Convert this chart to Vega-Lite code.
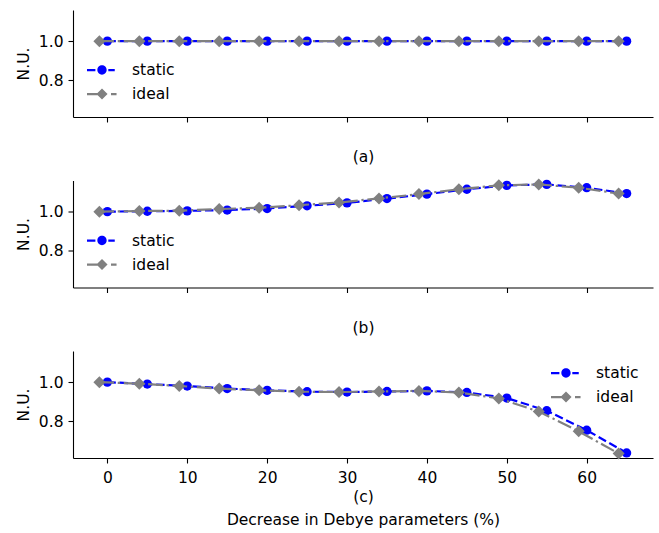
{
  "$schema": "https://vega.github.io/schema/vega-lite/v6.json",
  "padding": {"left": 16, "top": 10, "right": 5, "bottom": 3},
  "bounds": "flush",
  "spacing": 63.5,
  "config": {
    "font": "DejaVu Sans",
    "view": {"stroke": null},
    "axis": {
      "domainColor": "#000000", "domainWidth": 1.1, "tickColor": "#000000", "tickWidth": 1.1, "tickSize": 5,
      "labelColor": "#000000", "labelFontSize": 15.5, "titleFontSize": 15.5, "titleFontWeight": "normal", "titleColor": "#000000", "grid": false
    },
    "legend": {
      "title": null, "labelFontSize": 15.5, "labelColor": "#000000", "labelOffset": 15, "symbolSize": 900, "clipHeight": 16,
      "symbolOpacity": 1, "symbolStrokeWidth": 0, "rowPadding": 7, "padding": 0, "offset": 14
    }
  },
  "datasets": {
    "d": [
      {"panel":"a","series":"static","x":0,"y":1.0},{"panel":"a","series":"static","x":5,"y":1.0},{"panel":"a","series":"static","x":10,"y":1.0},{"panel":"a","series":"static","x":15,"y":1.0},{"panel":"a","series":"static","x":20,"y":1.0},{"panel":"a","series":"static","x":25,"y":1.0},{"panel":"a","series":"static","x":30,"y":1.0},{"panel":"a","series":"static","x":35,"y":1.0},{"panel":"a","series":"static","x":40,"y":1.0},{"panel":"a","series":"static","x":45,"y":1.0},{"panel":"a","series":"static","x":50,"y":1.0},{"panel":"a","series":"static","x":55,"y":1.0},{"panel":"a","series":"static","x":60,"y":1.0},{"panel":"a","series":"static","x":65,"y":1.0},
      {"panel":"a","series":"ideal","x":-1,"y":1.0},{"panel":"a","series":"ideal","x":4,"y":1.0},{"panel":"a","series":"ideal","x":9,"y":1.0},{"panel":"a","series":"ideal","x":14,"y":1.0},{"panel":"a","series":"ideal","x":19,"y":1.0},{"panel":"a","series":"ideal","x":24,"y":1.0},{"panel":"a","series":"ideal","x":29,"y":1.0},{"panel":"a","series":"ideal","x":34,"y":1.0},{"panel":"a","series":"ideal","x":39,"y":1.0},{"panel":"a","series":"ideal","x":44,"y":1.0},{"panel":"a","series":"ideal","x":49,"y":1.0},{"panel":"a","series":"ideal","x":54,"y":1.0},{"panel":"a","series":"ideal","x":59,"y":1.0},{"panel":"a","series":"ideal","x":64,"y":1.0},
      {"panel":"b","series":"static","x":0,"y":1.0},{"panel":"b","series":"static","x":5,"y":1.002},{"panel":"b","series":"static","x":10,"y":1.004},{"panel":"b","series":"static","x":15,"y":1.008},{"panel":"b","series":"static","x":20,"y":1.016},{"panel":"b","series":"static","x":25,"y":1.03},{"panel":"b","series":"static","x":30,"y":1.045},{"panel":"b","series":"static","x":35,"y":1.067},{"panel":"b","series":"static","x":40,"y":1.09},{"panel":"b","series":"static","x":45,"y":1.115},{"panel":"b","series":"static","x":50,"y":1.135},{"panel":"b","series":"static","x":55,"y":1.14},{"panel":"b","series":"static","x":60,"y":1.123},{"panel":"b","series":"static","x":65,"y":1.093},
      {"panel":"b","series":"ideal","x":-1,"y":1.0},{"panel":"b","series":"ideal","x":4,"y":1.003},{"panel":"b","series":"ideal","x":9,"y":1.005},{"panel":"b","series":"ideal","x":14,"y":1.013},{"panel":"b","series":"ideal","x":19,"y":1.02},{"panel":"b","series":"ideal","x":24,"y":1.033},{"panel":"b","series":"ideal","x":29,"y":1.047},{"panel":"b","series":"ideal","x":34,"y":1.068},{"panel":"b","series":"ideal","x":39,"y":1.09},{"panel":"b","series":"ideal","x":44,"y":1.115},{"panel":"b","series":"ideal","x":49,"y":1.135},{"panel":"b","series":"ideal","x":54,"y":1.14},{"panel":"b","series":"ideal","x":59,"y":1.123},{"panel":"b","series":"ideal","x":64,"y":1.093},
      {"panel":"c","series":"static","x":0,"y":1.0},{"panel":"c","series":"static","x":5,"y":0.99},{"panel":"c","series":"static","x":10,"y":0.98},{"panel":"c","series":"static","x":15,"y":0.967},{"panel":"c","series":"static","x":20,"y":0.958},{"panel":"c","series":"static","x":25,"y":0.951},{"panel":"c","series":"static","x":30,"y":0.949},{"panel":"c","series":"static","x":35,"y":0.952},{"panel":"c","series":"static","x":40,"y":0.955},{"panel":"c","series":"static","x":45,"y":0.947},{"panel":"c","series":"static","x":50,"y":0.918},{"panel":"c","series":"static","x":55,"y":0.853},{"panel":"c","series":"static","x":60,"y":0.753},{"panel":"c","series":"static","x":65,"y":0.636},
      {"panel":"c","series":"ideal","x":-1,"y":1.0},{"panel":"c","series":"ideal","x":4,"y":0.992},{"panel":"c","series":"ideal","x":9,"y":0.98},{"panel":"c","series":"ideal","x":14,"y":0.967},{"panel":"c","series":"ideal","x":19,"y":0.958},{"panel":"c","series":"ideal","x":24,"y":0.951},{"panel":"c","series":"ideal","x":29,"y":0.949},{"panel":"c","series":"ideal","x":34,"y":0.952},{"panel":"c","series":"ideal","x":39,"y":0.955},{"panel":"c","series":"ideal","x":44,"y":0.947},{"panel":"c","series":"ideal","x":49,"y":0.916},{"panel":"c","series":"ideal","x":54,"y":0.849},{"panel":"c","series":"ideal","x":59,"y":0.747},{"panel":"c","series":"ideal","x":64,"y":0.633}
    ]
  },
  "resolve": {"legend": {"color": "independent", "shape": "independent"}, "scale": {"color": "independent", "shape": "independent"}},
  "vconcat": [
    {
      "width": 580, "height": 107,
      "data": {"name": "d"},
      "transform": [{"filter": "datum.panel == 'a'"}],
      "encoding": {
        "x": {"field": "x", "type": "quantitative", "scale": {"domain": [-4.3, 68.3], "nice": false, "zero": false},
              "axis": {"values": [0,10,20,30,40,50,60], "labels": false, "title": "(a)", "titlePadding": 27}},
        "y": {"field": "y", "type": "quantitative", "scale": {"domain": [0.61, 1.16], "nice": false, "zero": false},
              "axis": {"values": [0.8, 1.0], "format": ".1f", "labelPadding": 5, "title": "N.U.", "titlePadding": 7}}
      },
      "layer": [
        {"transform": [{"filter": "datum.series == 'static'"}], "mark": {"type": "line", "color": "#0000ff", "strokeWidth": 2.2, "strokeDash": [8.5, 3.7]}, "encoding": {}},
        {"transform": [{"filter": "datum.series == 'static'"}], "mark": {"type": "point", "shape": "circle", "filled": true, "color": "#0000ff", "size": 86, "opacity": 1}},
        {"transform": [{"filter": "datum.series == 'ideal'"}], "mark": {"type": "line", "color": "#808080", "strokeWidth": 2.2, "strokeDash": [14.7, 3.7, 2.3, 3.7]}, "encoding": {}},
        {"transform": [{"filter": "datum.series == 'ideal'"}], "mark": {"type": "point", "shape": "diamond", "filled": true, "color": "#808080", "size": 144, "opacity": 1}},
        {"mark": {"type": "point", "filled": true, "opacity": 0},
         "encoding": {
           "color": {"field": "series", "type": "nominal", "scale": {"domain": ["static", "ideal"], "range": ["#0000ff", "#808080"]}, "legend": {"orient": "bottom-left"}},
           "shape": {"field": "series", "type": "nominal", "scale": {"domain": ["static", "ideal"], "range": ["M-1,-0.075H-0.44V0.075H-1Z M0.42,-0.075H0.85V0.075H0.42Z M-0.31,0A0.31,0.31,0,1,1,0.31,0A0.31,0.31,0,1,1,-0.31,0Z", "M-1,-0.075H-0.2V0.075H-1Z M0.6,-0.075H0.97V0.075H0.6Z M-0.37,0L0,-0.37L0.37,0L0,0.37Z"]}, "legend": {"orient": "bottom-left"}}
         }}
      ]
    },
    {
      "width": 580, "height": 107,
      "data": {"name": "d"},
      "transform": [{"filter": "datum.panel == 'b'"}],
      "encoding": {
        "x": {"field": "x", "type": "quantitative", "scale": {"domain": [-4.3, 68.3], "nice": false, "zero": false},
              "axis": {"values": [0,10,20,30,40,50,60], "labels": false, "title": "(b)", "titlePadding": 27}},
        "y": {"field": "y", "type": "quantitative", "scale": {"domain": [0.61, 1.16], "nice": false, "zero": false},
              "axis": {"values": [0.8, 1.0], "format": ".1f", "labelPadding": 5, "title": "N.U.", "titlePadding": 7}}
      },
      "layer": [
        {"transform": [{"filter": "datum.series == 'static'"}], "mark": {"type": "line", "color": "#0000ff", "strokeWidth": 2.2, "strokeDash": [8.5, 3.7]}, "encoding": {}},
        {"transform": [{"filter": "datum.series == 'static'"}], "mark": {"type": "point", "shape": "circle", "filled": true, "color": "#0000ff", "size": 86, "opacity": 1}},
        {"transform": [{"filter": "datum.series == 'ideal'"}], "mark": {"type": "line", "color": "#808080", "strokeWidth": 2.2, "strokeDash": [14.7, 3.7, 2.3, 3.7]}, "encoding": {}},
        {"transform": [{"filter": "datum.series == 'ideal'"}], "mark": {"type": "point", "shape": "diamond", "filled": true, "color": "#808080", "size": 144, "opacity": 1}},
        {"mark": {"type": "point", "filled": true, "opacity": 0},
         "encoding": {
           "color": {"field": "series", "type": "nominal", "scale": {"domain": ["static", "ideal"], "range": ["#0000ff", "#808080"]}, "legend": {"orient": "bottom-left"}},
           "shape": {"field": "series", "type": "nominal", "scale": {"domain": ["static", "ideal"], "range": ["M-1,-0.075H-0.44V0.075H-1Z M0.42,-0.075H0.85V0.075H0.42Z M-0.31,0A0.31,0.31,0,1,1,0.31,0A0.31,0.31,0,1,1,-0.31,0Z", "M-1,-0.075H-0.2V0.075H-1Z M0.6,-0.075H0.97V0.075H0.6Z M-0.37,0L0,-0.37L0.37,0L0,0.37Z"]}, "legend": {"orient": "bottom-left"}}
         }}
      ]
    },
    {
      "width": 580, "height": 107,
      "data": {"name": "d"},
      "transform": [{"filter": "datum.panel == 'c'"}],
      "encoding": {
        "x": {"field": "x", "type": "quantitative", "scale": {"domain": [-4.3, 68.3], "nice": false, "zero": false},
              "axis": {"values": [0,10,20,30,40,50,60], "labelPadding": 7, "title": ["(c)", "Decrease in Debye parameters (%)"], "titleLineHeight": 23, "titlePadding": 4}},
        "y": {"field": "y", "type": "quantitative", "scale": {"domain": [0.61, 1.16], "nice": false, "zero": false},
              "axis": {"values": [0.8, 1.0], "format": ".1f", "labelPadding": 5, "title": "N.U.", "titlePadding": 7}}
      },
      "layer": [
        {"transform": [{"filter": "datum.series == 'static'"}], "mark": {"type": "line", "color": "#0000ff", "strokeWidth": 2.2, "strokeDash": [8.5, 3.7]}, "encoding": {}},
        {"transform": [{"filter": "datum.series == 'static'"}], "mark": {"type": "point", "shape": "circle", "filled": true, "color": "#0000ff", "size": 86, "opacity": 1}},
        {"transform": [{"filter": "datum.series == 'ideal'"}], "mark": {"type": "line", "color": "#808080", "strokeWidth": 2.2, "strokeDash": [14.7, 3.7, 2.3, 3.7]}, "encoding": {}},
        {"transform": [{"filter": "datum.series == 'ideal'"}], "mark": {"type": "point", "shape": "diamond", "filled": true, "color": "#808080", "size": 144, "opacity": 1}},
        {"mark": {"type": "point", "filled": true, "opacity": 0},
         "encoding": {
           "color": {"field": "series", "type": "nominal", "scale": {"domain": ["static", "ideal"], "range": ["#0000ff", "#808080"]}, "legend": {"orient": "top-right"}},
           "shape": {"field": "series", "type": "nominal", "scale": {"domain": ["static", "ideal"], "range": ["M-1,-0.075H-0.44V0.075H-1Z M0.42,-0.075H0.85V0.075H0.42Z M-0.31,0A0.31,0.31,0,1,1,0.31,0A0.31,0.31,0,1,1,-0.31,0Z", "M-1,-0.075H-0.2V0.075H-1Z M0.6,-0.075H0.97V0.075H0.6Z M-0.37,0L0,-0.37L0.37,0L0,0.37Z"]}, "legend": {"orient": "top-right"}}
         }}
      ]
    }
  ]
}
